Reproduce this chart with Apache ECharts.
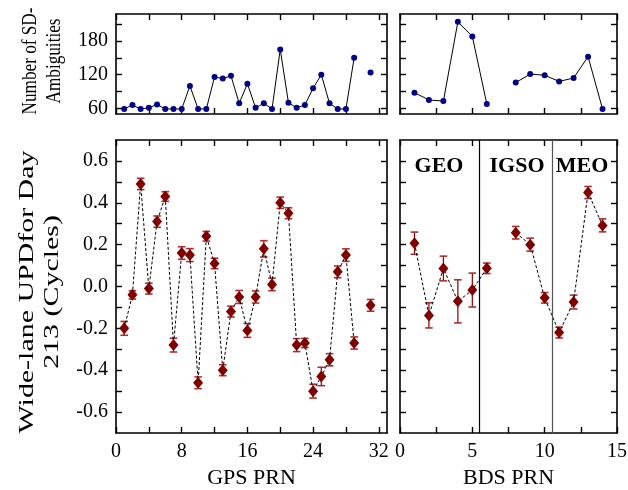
<!DOCTYPE html>
<html>
<head>
<meta charset="utf-8">
<script src="https://cdn.jsdelivr.net/npm/echarts@6/dist/echarts.min.js"></script>
<style>html,body{margin:0;padding:0;background:#fff}#c{width:628px;height:490px}</style>
</head>
<body>
<div id="c"></div>
<script>
// ---- data ----
const gpsPrn = [1,2,3,4,5,6,7,8,9,10,11,12,13,14,15,16,17,18,19,20,21,22,23,24,25,26,27,28,29,30,31];
const gpsAmb = [59,66,59,61,67,59,59,59,100,59,59,116,113,118,69,104,61,69,59,165,70,61,66,96,120,69,59,59,150,null,124];
const gpsUpd = [-0.20,-0.04,0.49,-0.01,0.31,0.43,-0.28,0.16,0.15,-0.46,0.24,0.11,-0.40,-0.12,-0.05,-0.21,-0.05,0.18,0.01,0.40,0.35,-0.28,-0.27,-0.50,-0.43,-0.35,0.07,0.15,-0.27,null,-0.09];
const gpsErr = [0.033,0.02,0.027,0.026,0.027,0.023,0.033,0.03,0.031,0.028,0.023,0.025,0.026,0.026,0.031,0.033,0.029,0.039,0.03,0.027,0.026,0.031,0.022,0.033,0.044,0.029,0.028,0.03,0.029,null,0.028];

const bdsPrn = [1,2,3,4,5,6,7,8,9,10,11,12,13,14];
const bdsAmb = [88,75,73,214,188,68,null,106,121,119,108,114,152,59];
const bdsUpd = [0.207,-0.138,0.086,-0.071,-0.017,0.087,null,0.257,0.200,-0.054,-0.220,-0.074,0.449,0.292];
const bdsErr = [0.053,0.06,0.059,0.103,0.081,0.025,null,0.03,0.031,0.025,0.026,0.033,0.029,0.031];

const gpsTicks = [0,4,8,12,16,20,24,28,32];
const gpsLabels = [0,8,16,24,32];
const bdsTicks = [0,2.5,5,7.5,10,12.5,15];
const bdsLabels = [0,5,10,15];
const ambTicks = [60,90,120,150,180,210];
const ambLabels = [60,120,180];
const updTicks = [-0.6,-0.5,-0.4,-0.3,-0.2,-0.1,0,0.1,0.2,0.3,0.4,0.5,0.6];
const updLabels = [-0.6,-0.4,-0.2,0,0.2,0.4,0.6];
const orbitLines = [5.5, 10.5];

// ---- helpers ----
const FONT = '"Liberation Serif","Times New Roman",serif';
const pts = (xs, ys) => xs.map((x, i) => [x, ys[i] == null ? '-' : ys[i]]);
const errPts = (xs, ys, es) => xs.map((x, i) => ys[i] == null ? null : [x, ys[i] - es[i], ys[i] + es[i]]).filter(Boolean);

function axisBase(pos, show) {
  return {
    axisLine: {show: true, onZero: false, lineStyle: {color: '#000', width: 1.6}},
    axisTick: {show: true, inside: true, length: 6, lineStyle: {color: '#000', width: 1.4}},
    splitLine: {show: false},
    axisLabel: {show: show, color: '#000', fontFamily: FONT, fontSize: 20},
    position: pos
  };
}
function xAx(grid, min, max, interval, ticks, labels, pos, showLabels) {
  const a = axisBase(pos, showLabels);
  Object.assign(a, {type: 'value', gridIndex: grid, min: min, max: max, interval: interval});
  a.axisTick.customValues = ticks;
  a.axisLabel.customValues = labels;
  a.axisLabel.margin = 9;
  a.axisLabel.formatter = v => (labels.indexOf(v) >= 0 ? String(v) : '');
  return a;
}
function yAx(grid, min, max, interval, ticks, labels, pos, showLabels, fmt) {
  const a = axisBase(pos, showLabels);
  Object.assign(a, {type: 'value', gridIndex: grid, min: min, max: max, interval: interval});
  a.axisTick.customValues = ticks;
  a.axisLabel.customValues = labels;
  a.axisLabel.margin = 8;
  a.axisLabel.formatter = fmt;
  return a;
}
const updFmt = v => { const k = Math.round(v * 10); return k % 2 === 0 ? (k / 10).toFixed(1) : ''; };
const ambFmt = v => (ambLabels.indexOf(Math.round(v)) >= 0 ? String(Math.round(v)) : '');

function renderErr(params, api) {
  const x = api.value(0), lo = api.value(1), hi = api.value(2);
  const p1 = api.coord([x, hi]), p2 = api.coord([x, lo]);
  const w = 3.8;
  return {type: 'group', children: [
    {type: 'line', shape: {x1: p1[0], y1: p1[1], x2: p2[0], y2: p2[1]}, style: {stroke: '#8b0000', lineWidth: 1.2}},
    {type: 'line', shape: {x1: p1[0] - w, y1: p1[1], x2: p1[0] + w, y2: p1[1]}, style: {stroke: '#a83030', lineWidth: 1.6}},
    {type: 'line', shape: {x1: p2[0] - w, y1: p2[1], x2: p2[0] + w, y2: p2[1]}, style: {stroke: '#a83030', lineWidth: 1.6}}
  ]};
}

const grids = [
  {left: 116, top: 14, width: 271, height: 100},
  {left: 400, top: 14, width: 217, height: 100},
  {left: 116, top: 140, width: 271, height: 293},
  {left: 400, top: 140, width: 217, height: 293}
].map(g => Object.assign(g, {containLabel: false, outerBoundsMode: 'none'}));

const option = {
  animation: false,
  backgroundColor: '#fff',
  textStyle: {fontFamily: FONT},
  grid: grids,
  xAxis: [
    xAx(0, 0, 33, 4, gpsTicks, gpsLabels, 'bottom', false),
    xAx(1, 0, 15, 2.5, bdsTicks, bdsLabels, 'bottom', false),
    Object.assign(xAx(2, 0, 33, 4, gpsTicks, gpsLabels, 'bottom', true),
      {name: 'GPS PRN', nameLocation: 'middle', nameGap: 33, nameTextStyle: {color: '#000', fontFamily: FONT, fontSize: 22}}),
    Object.assign(xAx(3, 0, 15, 2.5, bdsTicks, bdsLabels, 'bottom', true),
      {name: 'BDS PRN', nameLocation: 'middle', nameGap: 33, nameTextStyle: {color: '#000', fontFamily: FONT, fontSize: 22}}),
    xAx(0, 0, 33, 4, gpsTicks, gpsLabels, 'top', false),
    xAx(1, 0, 15, 2.5, bdsTicks, bdsLabels, 'top', false),
    xAx(2, 0, 33, 4, gpsTicks, gpsLabels, 'top', false),
    xAx(3, 0, 15, 2.5, bdsTicks, bdsLabels, 'top', false)
  ],
  yAxis: [
    yAx(0, 50, 228, 30, ambTicks, ambLabels, 'left', true, ambFmt),
    yAx(1, 50, 228, 30, ambTicks, ambLabels, 'left', false, ambFmt),
    yAx(2, -0.7, 0.7, 0.1, updTicks, updLabels, 'left', true, updFmt),
    yAx(3, -0.7, 0.7, 0.1, updTicks, updLabels, 'left', false, updFmt),
    yAx(0, 50, 228, 30, ambTicks, ambLabels, 'right', false, ambFmt),
    yAx(1, 50, 228, 30, ambTicks, ambLabels, 'right', false, ambFmt),
    yAx(2, -0.7, 0.7, 0.1, updTicks, updLabels, 'right', false, updFmt),
    yAx(3, -0.7, 0.7, 0.1, updTicks, updLabels, 'right', false, updFmt)
  ],
  series: [
    {type: 'line', xAxisIndex: 0, yAxisIndex: 0, data: pts(gpsPrn, gpsAmb), connectNulls: false,
     symbol: 'circle', symbolSize: 6, itemStyle: {color: '#00008b'}, lineStyle: {color: '#000', width: 1}},
    {type: 'line', xAxisIndex: 1, yAxisIndex: 1, data: pts(bdsPrn, bdsAmb), connectNulls: false,
     symbol: 'circle', symbolSize: 6, itemStyle: {color: '#00008b'}, lineStyle: {color: '#000', width: 1}},
    {type: 'custom', xAxisIndex: 2, yAxisIndex: 2, renderItem: renderErr, data: errPts(gpsPrn, gpsUpd, gpsErr),
     encode: {x: 0, y: [1, 2]}, z: 2},
    {type: 'custom', xAxisIndex: 3, yAxisIndex: 3, renderItem: renderErr, data: errPts(bdsPrn, bdsUpd, bdsErr),
     encode: {x: 0, y: [1, 2]}, z: 2},
    {type: 'line', xAxisIndex: 2, yAxisIndex: 2, data: pts(gpsPrn, gpsUpd), connectNulls: false, z: 3,
     symbol: 'diamond', symbolSize: [10, 12], itemStyle: {color: '#800000'},
     lineStyle: {color: '#000', width: 1, type: [3, 2]}},
    {type: 'line', xAxisIndex: 3, yAxisIndex: 3, data: pts(bdsPrn, bdsUpd), connectNulls: false, z: 3,
     symbol: 'diamond', symbolSize: [10, 12], itemStyle: {color: '#800000'},
     lineStyle: {color: '#000', width: 1, type: [3, 2]},
     markLine: {silent: true, symbol: ['none', 'none'], label: {show: false},
       data: [
         {xAxis: orbitLines[0], lineStyle: {color: '#000', width: 1.2, type: 'solid'}},
         {xAxis: orbitLines[1], lineStyle: {color: '#555', width: 1.2, type: 'solid'}}
       ]}}
  ],
  graphic: [
    {type: 'text', x: 43, y: 61, rotation: Math.PI / 2, scaleX: 0.86,
     style: {text: 'Number of SD-\nAmbiguities', fontFamily: FONT, fontSize: 20, lineHeight: 24, fill: '#000', align: 'center', verticalAlign: 'middle'}},
    {type: 'text', x: 40, y: 292, rotation: Math.PI / 2, scaleX: 1.36,
     style: {text: 'Wide-lane UPDfor Day\n213 (Cycles)', fontFamily: FONT, fontSize: 22, lineHeight: 25, fill: '#000', align: 'center', verticalAlign: 'middle'}},
    {type: 'text', x: 439, y: 166, style: {text: 'GEO', fontFamily: FONT, fontWeight: 'bold', fontSize: 22, fill: '#000', align: 'center', verticalAlign: 'middle'}},
    {type: 'text', x: 517, y: 166, style: {text: 'IGSO', fontFamily: FONT, fontWeight: 'bold', fontSize: 22, fill: '#000', align: 'center', verticalAlign: 'middle'}},
    {type: 'text', x: 582, y: 166, style: {text: 'MEO', fontFamily: FONT, fontWeight: 'bold', fontSize: 22, fill: '#000', align: 'center', verticalAlign: 'middle'}}
  ]
};
const chart = echarts.init(document.getElementById('c'), null, {renderer: 'canvas'});
chart.setOption(option);
</script>
</body>
</html>
